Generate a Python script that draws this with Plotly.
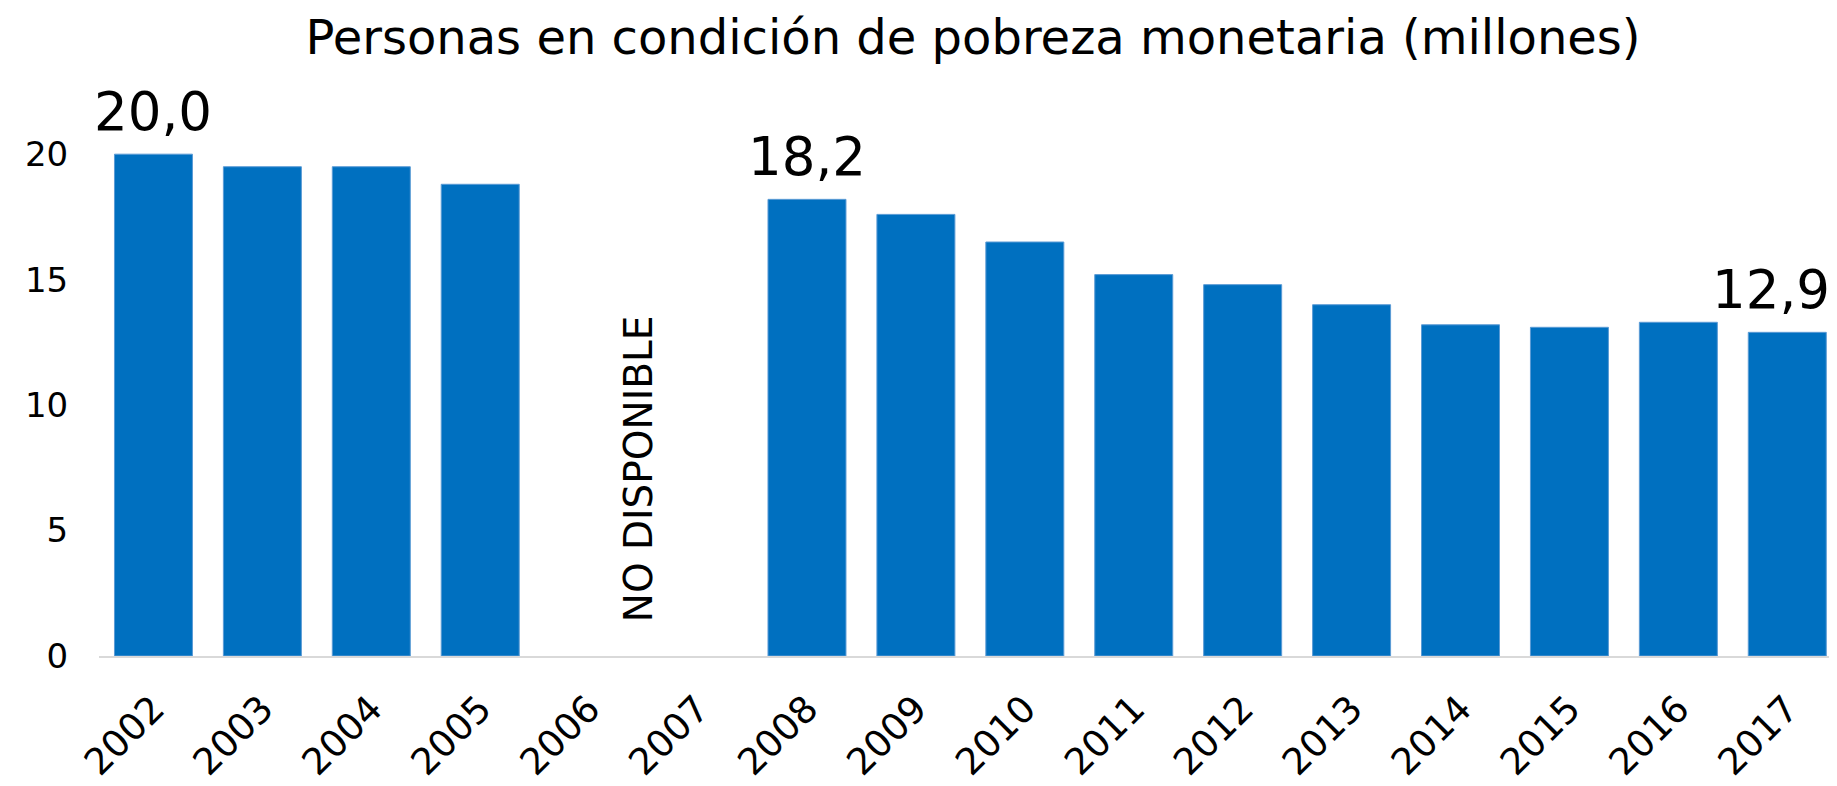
import plotly.graph_objects as go

years = ["2002", "2003", "2004", "2005", "2006", "2007", "2008", "2009",
         "2010", "2011", "2012", "2013", "2014", "2015", "2016", "2017"]
personas = [20.0, 19.5, 19.5, 18.8, None, None, 18.2, 17.6,
            16.5, 15.2, 14.8, 14.0, 13.2, 13.1, 13.3, 12.9]
label_years = ["2002", "2008", "2017"]
label_texts = ["20,0", "18,2", "12,9"]
label_xshift = [0, 0, -16]
y_ticks = [0, 5, 10, 15, 20]
title_text = "Personas en condición de pobreza monetaria (millones)"
nodata_text = "NO DISPONIBLE"

FONT = "DejaVu Sans"
BLUE = "#0070C0"

fig = go.Figure()
fig.add_trace(go.Bar(
    x=years, y=personas,
    marker=dict(color=BLUE, line=dict(color="#5B9BD5", width=1)),
    hoverinfo="x+y",
))

for yr, txt, xs in zip(label_years, label_texts, label_xshift):
    idx = years.index(yr)
    fig.add_annotation(x=idx, y=personas[idx], text=txt, showarrow=False,
                       yanchor="bottom", xanchor="center", yshift=10, xshift=xs,
                       font=dict(family=FONT, size=53, color="#000000"))

fig.add_annotation(x=4.45, y=7.45, text=nodata_text, showarrow=False,
                   textangle=-90, xanchor="center", yanchor="middle",
                   font=dict(family=FONT, size=39, color="#000000"))

fig.update_layout(
    width=1837, height=786,
    margin=dict(l=91, r=0, t=96, b=138, autoexpand=False),
    paper_bgcolor="white", plot_bgcolor="white",
    bargap=0.284,
    showlegend=False,
    title=dict(text=title_text, x=965 / 1837, xanchor="center",
               y=1 - 29 / 786, yanchor="middle", yref="container",
               font=dict(family=FONT, size=48, color="#000000")),
    font=dict(family=FONT, color="#000000"),
)
fig.update_xaxes(type="category", range=[-0.5, 15.53], automargin=False,
                 showline=True, linecolor="#D9D9D9", linewidth=2,
                 showgrid=False, zeroline=False,
                 tickangle=-45, ticks="outside", ticklen=14, tickcolor="rgba(0,0,0,0)",
                 tickfont=dict(family=FONT, size=37, color="#000000"))
fig.update_yaxes(range=[0, 22], tickvals=y_ticks, automargin=False,
                 showgrid=False, zeroline=False,
                 showline=False, ticks="outside", ticklen=23, tickcolor="rgba(0,0,0,0)",
                 tickfont=dict(family=FONT, size=34, color="#000000"))

fig.write_html("out.html")
